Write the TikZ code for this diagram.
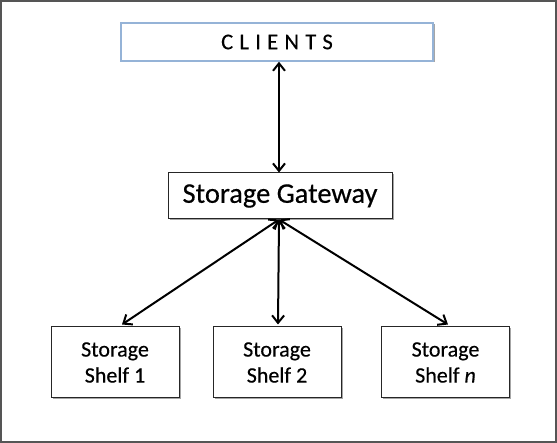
\documentclass[tikz,border=0pt]{standalone}
\usepackage{fontspec}
\setmainfont{Carlito}[FakeBold=0.4]
\usetikzlibrary{arrows.meta,shadows}
\definecolor{framegray}{HTML}{555555}
\definecolor{clientblue}{HTML}{95B3D7}
\tikzset{
  boxbase/.style={rectangle, fill=white, inner sep=0pt,
    drop shadow={shadow xshift=1.5pt, shadow yshift=-1.5pt, fill=black, opacity=0.35}},
  clientbox/.style={boxbase, draw=clientblue, line width=1.4pt,
    minimum width=312pt, minimum height=38pt,
    font=\fontsize{22.5}{26}\selectfont\addfontfeature{LetterSpace=28}},
  gatebox/.style={boxbase, draw=black!85, line width=1pt,
    minimum width=224pt, minimum height=46pt,
    font=\fontsize{28.5}{34}\selectfont},
  shelfbox/.style={boxbase, draw=black!85, line width=1pt,
    minimum width=128pt, minimum height=71pt, align=center,
    font=\fontsize{22}{26}\selectfont},
  link/.style={line width=2pt, {Straight Barb[length=7.5pt,width=12pt]}-{Straight Barb[length=7.5pt,width=12pt]}}
}
\begin{document}
\begin{tikzpicture}[x=1pt,y=-1pt]
\useasboundingbox (0,0) rectangle (557,443);
\draw[framegray, line width=2.4pt] (1.2,1.2) rectangle (555.8,441.8);
\node[clientbox] (cl) at (277,42) {CLIENTS};
\node[gatebox] (gw) at (280,196) {Storage Gateway};
\node[shelfbox] (s1) at (115,362.5) {Storage\\Shelf 1};
\node[shelfbox] (s2) at (277,362.5) {Storage\\Shelf 2};
\node[shelfbox] (sn) at (445.5,362.5) {Storage\\Shelf \textit{n}};
\draw[link] ([xshift=2pt]cl.south) -- ([xshift=-1pt]gw.north);
\draw[link] ([xshift=-1pt]gw.south) -- ([xshift=7pt,yshift=2pt]s1.north);
\draw[link] ([xshift=-1pt]gw.south) -- ([xshift=1pt,yshift=2pt]s2.north);
\draw[link] ([xshift=-1pt]gw.south) -- ([xshift=2.5pt,yshift=2pt]sn.north);
\end{tikzpicture}
\end{document}
